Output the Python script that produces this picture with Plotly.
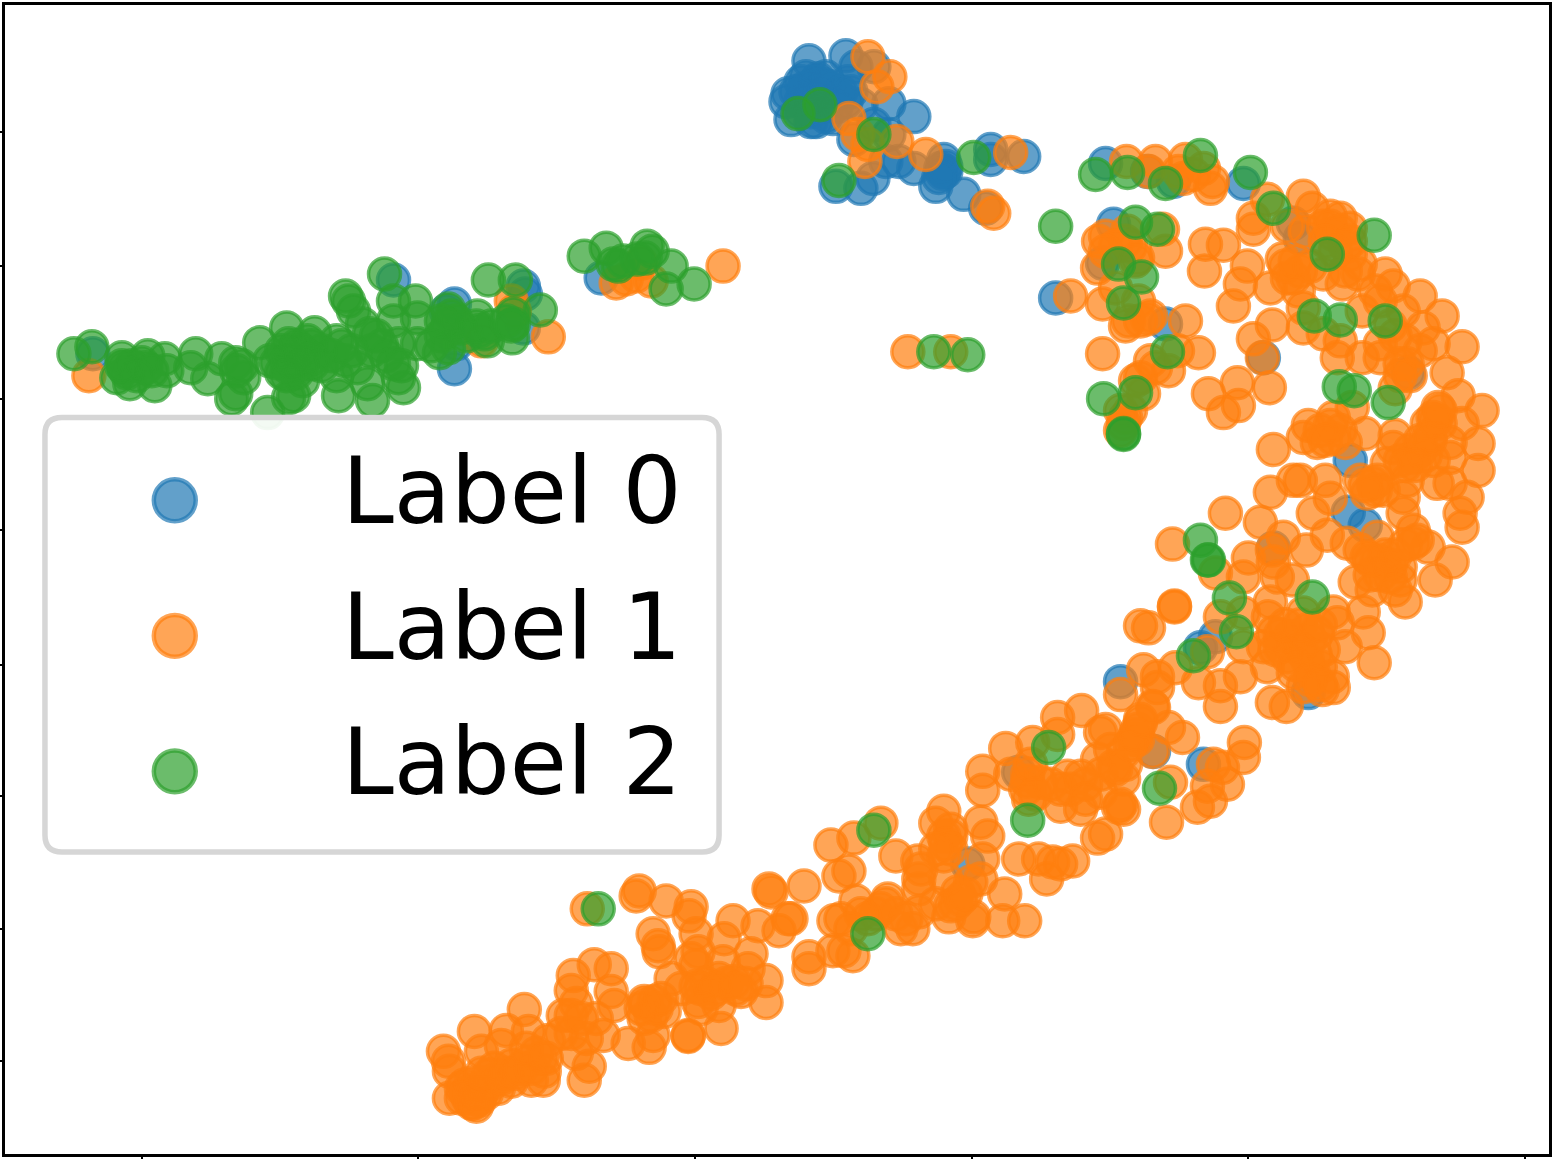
import plotly.graph_objects as go

# values, axes run in the same units as the picture
label_names = ['Label 0', 'Label 1', 'Label 2']
tick_y = [130, 265, 398, 530, 665, 797, 930, 1063]
tick_x = [140, 417, 694, 971, 1248, 1525]

label_0 = [
    (808,59),(845,54),(787,92),(785,100),(790,118),(815,120),(832,117),(817,77),(803,87),(823,83),
    (837,93),(847,80),(855,65),(873,65),(860,103),(888,102),(913,115),(888,133),(853,138),(873,123),
    (835,185),(860,187),(872,177),(885,160),(898,160),(913,167),(935,185),(963,193),(943,158),(940,167),
    (945,170),(990,148),(990,158),(1023,155),(985,207),(805,75),(815,95),(825,100),(800,100),(845,100),
    (810,120),(1105,162),(1147,170),(1173,180),(1243,182),(1113,223),(1102,262),(1055,297),(1165,323),
    (1263,357),(1408,372),(1350,460),(1293,222),(1300,237),(1348,512),(1365,525),(1273,548),(1215,637),
    (1200,648),(1120,682),(1308,693),(1153,752),(1203,765),(1018,773),(967,865),(392,279),(453,303),
    (453,368),(522,285),(524,293),(522,327),(91,353),(600,277),(455,343),(445,310),
    (810,85),(815,80),(820,90),(810,95),(800,80),(830,85),(825,75),(840,90),(835,105),(820,105),
    (810,110),(825,115),(850,90),(795,90),(800,110),(945,165),(942,172),(938,176),
]

label_1 = [
    (867,55),(889,75),(876,85),(848,117),(857,133),(867,143),(864,160),(896,140),(925,153),(1010,151),
    (987,205),(993,212),(87,375),(480,340),(547,336),(722,265),(510,300),(513,310),(625,278),(615,282),
    (635,275),(640,262),(650,280),(1126,160),(1155,160),(1148,170),(1185,158),(1183,177),(1178,170),
    (1203,167),(1210,187),(1212,180),(1193,173),(1267,198),(1253,217),(1253,228),(1287,225),(1303,195),
    (1312,207),(1330,215),(1340,217),(1323,225),(1350,227),(1305,230),(1333,233),(1350,253),(1360,263),
    (1282,258),(1287,277),(1270,287),(1293,277),(1298,290),(1323,273),(1342,283),(1358,273),(1385,273),
    (1393,285),(1303,307),(1303,327),(1323,333),(1340,340),(1337,357),(1362,357),(1380,357),(1362,310),
    (1420,295),(1442,315),(1403,310),(1423,327),(1433,343),(1462,346),(1447,372),(1400,363),(1407,363),
    (1380,343),(1395,388),(1098,240),(1105,235),(1127,230),(1162,228),(1165,250),(1097,267),(1137,257),
    (1115,287),(1102,303),(1070,295),(1138,300),(1128,320),(1140,320),(1147,318),(1185,320),(1102,353),
    (1198,352),(1177,350),(1168,370),(1155,367),(1140,377),(1143,393),(1130,410),(1123,423),(1120,430),
    (1125,417),(1205,243),(1223,244),(1204,270),(1247,265),(1240,283),(1233,305),(1272,324),(1253,338),
    (1262,357),(1208,393),(1237,382),(1238,405),(1223,412),(1269,387),(907,351),(950,351),
    (1308,425),(1303,437),(1333,417),(1317,442),(1333,438),(1345,442),(1352,407),(1273,449),(1365,433),
    (1395,435),(1438,407),(1458,395),(1482,410),(1433,417),(1462,423),(1478,443),(1478,470),(1467,497),
    (1460,513),(1462,527),(1450,442),(1430,440),(1427,423),(1440,423),(1437,483),(1450,483),(1450,457),
    (1413,457),(1400,460),(1407,480),(1387,463),(1433,460),(1420,450),(1393,447),(1377,480),(1360,480),
    (1373,483),(1383,490),(1367,493),(1403,497),(1403,513),(1413,530),(1428,547),(1452,562),(1435,580),
    (1325,480),(1330,498),(1313,513),(1327,535),(1293,480),(1300,480),(1270,492),(1260,522),(1225,513),
    (1172,544),(1347,543),(1360,550),(1377,537),(1367,557),(1383,563),(1400,567),(1400,580),(1390,577),
    (1377,560),(1370,575),(1355,582),(1372,590),(1405,602),(1413,543),(1417,540),(1283,537),(1272,550),
    (1306,550),(1248,558),(1273,562),(1243,577),(1277,577),(1292,580),(1215,573),(1174,606),(1174,607),
    (1140,626),(1148,628),(1270,602),(1268,617),(1220,617),(1243,613),(1303,613),(1333,612),(1337,623),
    (1363,612),(1368,633),(1345,647),(1374,663),(1273,633),(1290,637),(1307,630),(1317,633),(1280,647),
    (1300,647),(1323,650),(1263,647),(1287,657),(1307,660),(1320,667),(1293,673),(1313,673),(1332,677),
    (1333,688),(1322,690),(1303,687),(1272,703),(1286,707),(1267,667),(1240,677),(1243,647),(1220,686),
    (1220,707),(1198,683),(1175,668),(1207,652),(1143,670),(1157,677),(1157,688),(1120,695),(1152,707),
    (1168,728),(1140,723),(1137,730),(1182,738),(1244,743),(1105,730),(1153,708),(1057,718),(1081,711),
    (1100,733),(1137,740),(1133,740),(1152,752),(1213,765),(1243,758),(1222,768),(1227,785),(1207,787),
    (1197,808),(1210,802),(1170,783),(1166,823),(1005,749),(1032,743),(1057,735),(982,772),(982,791),
    (1027,782),(1027,775),(1025,790),(1040,783),(1028,800),(1060,807),(1080,810),(1067,777),(1080,777),
    (1097,760),(1113,767),(1123,753),(1110,750),(1123,780),(1100,793),(1123,810),(1118,808),(1105,835),
    (1097,839),(880,824),(853,839),(830,846),(895,857),(917,862),(943,812),(935,824),(943,837),(950,837),
    (980,823),(987,837),(943,857),(918,880),(918,890),(982,860),(980,880),(970,883),(957,893),(1018,860),
    (1038,860),(1052,863),(1060,865),(1072,862),(1046,880),(803,887),(848,872),(838,877),(1004,895),
    (1002,922),(1024,922),(972,922),(973,918),(948,918),(950,907),(918,913),(912,930),(900,930),(887,900),
    (855,902),(880,910),(833,922),(840,920),(867,920),(790,920),(852,957),(832,952),(808,958),(808,970),
    (843,952),(586,910),(638,892),(635,897),(665,902),(690,908),(688,917),(768,890),(770,893),(787,920),
    (778,932),(757,927),(732,922),(723,940),(750,955),(747,970),(765,982),(765,1004),(695,935),(652,935),
    (657,947),(658,953),(697,953),(722,963),(695,967),(718,980),(733,983),(740,993),(670,980),(695,988),
    (697,1003),(718,1007),(720,1030),(687,1038),(687,1037),(643,1003),(653,1003),(650,1017),(643,1020),
    (663,1013),(652,1037),(648,1049),(627,1045),(610,970),(593,966),(572,977),(570,992),(613,1007),
    (610,993),(602,1037),(570,1017),(562,1017),(523,1011),(473,1033),(505,1032),(527,1033),(480,1053),
    (500,1047),(547,1042),(442,1053),(447,1063),(448,1073),(493,1070),(510,1067),(527,1063),(540,1060),
    (543,1073),(575,1055),(588,1068),(583,1082),(542,1082),(530,1082),(497,1090),(448,1100),(463,1087),
    (470,1093),(477,1100),(472,1105),(478,1102),(467,1100),(460,1090),(510,1083),(483,1087),(487,1077),
    # denser parts of the band
    (465,1095),(470,1085),(475,1095),(480,1095),(485,1095),(490,1085),(500,1080),(505,1075),(515,1075),
    (520,1070),(530,1070),(535,1055),(525,1050),(545,1060),(460,1100),(470,1105),(475,1108),(480,1075),
    (560,1035),(570,1035),(585,1040),(595,1020),(575,1005),(580,1020),(640,1010),(645,1005),(655,1010),
    (660,1000),(700,990),(705,985),(710,995),(715,990),(725,985),(735,990),(745,985),(700,1010),(690,960),
    (680,990),(875,915),(885,905),(895,915),(905,920),(860,915),(850,930),(935,905),(955,905),(960,900),
    (965,895),(950,830),(945,845),(950,850),(935,850),(945,880),(920,870),(1060,790),(1070,790),(1085,785),
    (1100,775),(1115,770),(1125,765),(1130,745),(1135,735),(1140,720),(1010,775),(1030,765),(1035,795),
    (1050,785),(1120,805),(1085,800),(1290,645),(1295,640),(1300,650),(1310,640),(1315,655),(1280,635),
    (1275,650),(1285,625),(1300,625),(1320,625),(1295,665),(1310,680),(1320,685),(1385,555),(1390,565),
    (1395,555),(1380,575),(1395,590),(1370,560),(1405,545),(1375,490),(1365,485),(1410,450),(1420,440),
    (1425,455),(1430,435),(1435,420),(1440,410),(1415,465),(1405,465),(1330,225),(1340,230),(1325,240),
    (1345,245),(1335,250),(1350,240),(1300,270),(1285,265),(1295,260),(1310,265),(1345,270),(1390,325),
    (1395,335),(1405,340),(1410,375),(1400,375),(1420,350),(1380,300),(1375,290),(1125,240),(1130,245),
    (1115,245),(1125,325),(1150,315),(1135,380),(1150,360),(1120,410),(1135,260),(1105,250),(1340,430),
    (1330,425),(1320,430),(1325,440),
]

label_2 = [
    (72,353),(90,346),(120,357),(122,367),(115,377),(128,383),(146,355),(144,367),(153,385),(163,358),
    (165,370),(194,353),(189,367),(206,378),(220,358),(234,362),(234,393),(230,398),(242,377),(258,342),
    (285,327),(313,332),(268,360),(287,343),(297,353),(287,367),(306,340),(311,363),(301,380),(287,397),
    (292,395),(266,412),(335,340),(344,360),(335,375),(337,395),(356,367),(371,400),(366,383),(402,387),
    (397,377),(392,363),(344,295),(347,300),(352,310),(361,323),(368,333),(383,273),(392,300),(414,300),
    (416,317),(392,320),(416,343),(397,343),(438,352),(447,347),(447,308),(447,323),(476,315),(478,330),
    (486,340),(487,279),(514,279),(511,337),(512,313),(512,323),(539,309),(459,327),(483,333),(300,360),
    (290,350),(275,362),(320,350),(310,345),(330,355),(295,372),(280,372),(583,255),(605,247),(617,265),
    (612,263),(622,260),(646,245),(651,250),(644,257),(670,265),(693,283),(665,288),(636,258),(797,112),
    (819,103),(873,133),(838,179),(973,156),(1055,225),(1095,173),(1127,171),(1165,182),(1200,154),
    (1250,171),(1273,207),(1135,221),(1157,228),(1374,234),(1327,253),(1118,263),(1141,276),(1123,302),
    (1314,315),(1340,319),(1385,320),(1167,351),(1135,392),(1103,398),(1123,434),(1123,433),(1339,386),
    (1354,390),(1388,402),(933,351),(967,354),(1200,540),(1207,560),(1208,560),(1229,598),(1236,632),
    (1312,597),(1193,656),(1048,748),(1027,821),(1159,789),(873,831),(867,935),(597,910),
    (130,365),(140,362),(125,372),(135,375),(150,370),(120,365),(240,365),(235,370),(280,350),(285,360),
    (290,360),(295,345),(300,350),(305,355),(310,358),(320,365),(300,365),(285,375),(340,345),(370,350),
    (380,345),(385,355),(375,335),(350,350),(400,365),(440,335),(445,330),(455,320),(450,315),(465,335),
    (475,325),(490,325),(505,320),(510,325),(440,320),(430,345),
]

colors = ['rgba(31,119,180,0.7)', 'rgba(255,127,14,0.7)', 'rgba(44,160,44,0.7)']
series = [label_0, label_1, label_2]

fig = go.Figure()
for name, pts, color in zip(label_names, series, colors):
    xs, ys = zip(*pts)
    fig.add_trace(go.Scatter(x=xs, y=ys, mode='markers', name=name, showlegend=False,
                             marker=dict(size=32, color=color, line=dict(width=3.5, color=color))))

# matplotlib style legend box, plotly's own legend caps the marker size
shapes = [dict(type='path', xref='x', yref='y', layer='above',
               path='M 60,417 L 701,417 Q 718,417 718,434 L 718,836 Q 718,853 701,853 '
                    'L 60,853 Q 43,853 43,836 L 43,434 Q 43,417 60,417 Z',
               fillcolor='rgba(255,255,255,0.92)', line=dict(color='#d6d6d6', width=5.5))]
annotations = []
for name, color, cy in zip(label_names, colors, [500, 636, 772]):
    shapes.append(dict(type='circle', xref='x', yref='y', layer='above',
                       x0=173-21, x1=173+21, y0=cy-21, y1=cy+21,
                       fillcolor=color, line=dict(color=color, width=4.5)))
    annotations.append(dict(x=338, y=cy-9, xref='x', yref='y', text=name, showarrow=False,
                            xanchor='left', yanchor='middle',
                            font=dict(family='DejaVu Sans', size=93, color='black')))

fig.update_layout(width=1554, height=1159, autosize=False,
                  margin=dict(l=3, r=2, t=3, b=3),
                  paper_bgcolor='white', plot_bgcolor='white',
                  shapes=shapes, annotations=annotations)
fig.update_xaxes(range=[3, 1549], showgrid=False, zeroline=False, showticklabels=False,
                 showline=True, mirror=True, linecolor='black', linewidth=3,
                 ticks='outside', tickvals=tick_x, ticklen=3, tickwidth=2, tickcolor='black')
fig.update_yaxes(range=[1156, 3], showgrid=False, zeroline=False, showticklabels=False,
                 showline=True, mirror=True, linecolor='black', linewidth=3,
                 ticks='outside', tickvals=tick_y, ticklen=3, tickwidth=2, tickcolor='black')

fig.write_html("out.html", config=dict(displayModeBar=False),
               post_script="document.body.style.margin='0';")
